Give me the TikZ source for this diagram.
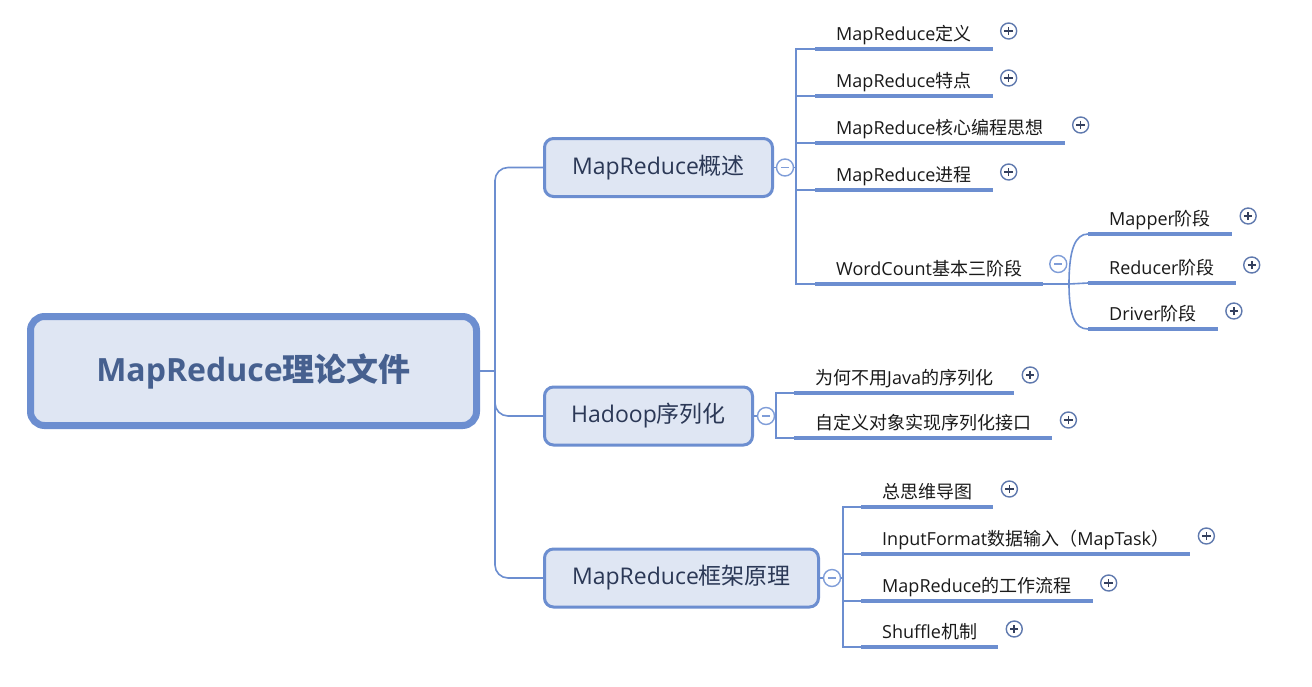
\documentclass[tikz,border=0pt]{standalone}
\usepackage{fontspec}
\setmainfont{Open Sans}
\newfontfamily\zhfont{Noto Sans CJK SC}
\newcommand\zh[1]{{\zhfont #1}}
\definecolor{lineblue}{HTML}{6C8ED0}
\definecolor{boxfill}{HTML}{DFE6F3}
\definecolor{roottext}{HTML}{46608F}
\definecolor{boxtext}{HTML}{2B3856}
\definecolor{ringc}{HTML}{5F79AE}
\definecolor{plusc}{HTML}{34405E}
\definecolor{minusc}{HTML}{7F9DD8}
\definecolor{leaftext}{HTML}{1A1A1A}
\begin{document}
\begin{tikzpicture}[x=1pt,y=-1pt,
 conn/.style={draw=lineblue, line width=1.6pt},
 uline/.style={draw=lineblue, line width=4.5pt},
 rootbox/.style={draw=lineblue, line width=7pt, fill=boxfill, rounded corners=14pt,
   minimum width=446pt, minimum height=109pt, inner sep=0pt, text=roottext,
   font=\fontsize{32}{38}\selectfont\bfseries},
 mainbox/.style={draw=lineblue, line width=3pt, fill=boxfill, rounded corners=9pt,
   minimum height=58pt, inner sep=0pt, text=boxtext, font=\fontsize{23}{28}\selectfont},
 leaf/.style={anchor=base west, inner xsep=21pt, inner ysep=0pt, text=leaftext,
   font=\fontsize{18}{22}\selectfont},
 plusbtn/.style={circle, draw=ringc, line width=1.4pt, fill=white, minimum size=16pt,
   inner sep=0pt, path picture={\draw[plusc, line width=1.6pt]
   ([xshift=-4.2pt]path picture bounding box.center) -- ([xshift=4.2pt]path picture bounding box.center)
   ([yshift=-4.2pt]path picture bounding box.center) -- ([yshift=4.2pt]path picture bounding box.center);}},
 minusbtn/.style={circle, draw=minusc, line width=1.4pt, fill=white, minimum size=17pt,
   inner sep=0pt, path picture={\draw[minusc, line width=1.6pt]
   ([xshift=-4.2pt]path picture bounding box.center) -- ([xshift=4.2pt]path picture bounding box.center);}},
]
\useasboundingbox (0,0) rectangle (1312,686);
\fill[white] (0,0) rectangle (1312,686);

% root and main topics
\node[rootbox] (root) at (253.5,371) {MapReduce\zh{理论文件}};
\node[mainbox, minimum width=228pt] (b1) at (658.5,167.5) {MapReduce\zh{概述}};
\node[mainbox, minimum width=208pt] (b2) at (648.5,416) {Hadoop\zh{序列化}};
\node[mainbox, minimum width=274pt] (b3) at (681.5,578) {MapReduce\zh{框架原理}};

\coordinate (t) at (495,371);
\draw[conn] (root.east) -- (t);
\draw[conn, rounded corners=13pt] (t) |- (b1.west);
\draw[conn, rounded corners=13pt] (t) |- (b2.west);
\draw[conn, rounded corners=13pt] (t) |- (b3.west);

% group A
\node[leaf] (a1) at (815,40) {MapReduce\zh{定义}};
\node[leaf] (a2) at (815,87) {MapReduce\zh{特点}};
\node[leaf] (a3) at (815,134) {MapReduce\zh{核心编程思想}};
\node[leaf] (a4) at (815,181) {MapReduce\zh{进程}};
\node[leaf] (a5) at (815,275) {WordCount\zh{基本三阶段}};
% group B
\node[leaf] (w1) at (1088,225) {Mapper\zh{阶段}};
\node[leaf] (w2) at (1088,274) {Reducer\zh{阶段}};
\node[leaf] (w3) at (1088,320) {Driver\zh{阶段}};
% group C
\node[leaf] (h1) at (794,384) {\zh{为何不用}Java\zh{的序列化}};
\node[leaf] (h2) at (794,429) {\zh{自定义对象实现序列化接口}};
% group D
\node[leaf] (f1) at (861,498) {\zh{总思维导图}};
\node[leaf] (f2) at (861,545) {InputFormat\zh{数据输入（}MapTask\zh{）}};
\node[leaf] (f3) at (861,592) {MapReduce\zh{的工作流程}};
\node[leaf] (f4) at (861,638) {Shuffle\zh{机制}};

% underlines
\foreach \n in {a1,a2,a3,a4,a5,w1,w2,w3,h1,h2,f1,f2,f3,f4}
  \draw[uline] ([yshift=-9pt]\n.base west) -- ([yshift=-9pt]\n.base east);

% junctions
\coordinate (j1) at (796,167.5);
\coordinate (j2) at (776,416);
\coordinate (j3) at (843,578);
\coordinate (jw) at (1069,284);

\draw[conn] (b1.east) -- (j1);
\foreach \n in {a1,a2,a3,a4,a5}
  \draw[conn] (j1) |- ([yshift=-9pt]\n.base west);
\draw[conn] (b2.east) -- (j2);
\foreach \n in {h1,h2}
  \draw[conn] (j2) |- ([yshift=-9pt]\n.base west);
\draw[conn] (b3.east) -- (j3);
\foreach \n in {f1,f2,f3,f4}
  \draw[conn] (j3) |- ([yshift=-9pt]\n.base west);

\draw[conn] ([yshift=-9pt]a5.base east) -- (jw);
\draw[conn] (jw) .. controls +(0,-34) and +(-13,0) .. ([yshift=-9pt]w1.base west);
\draw[conn] (jw) -- ([yshift=-9pt]w2.base west);
\draw[conn] (jw) .. controls +(0,32) and +(-13,0) .. ([yshift=-9pt]w3.base west);

% collapse buttons
\node[minusbtn] (m1) at (785,167.5) {};
\node[minusbtn] (m2) at (766,416) {};
\node[minusbtn] (m3) at (832,578) {};
\node[minusbtn] (m4) at ([xshift=15pt,yshift=11pt]a5.base east) {};

% expand buttons
\foreach \n in {a1,a2,a3,a4,w1,w2,w3,h1,h2,f1,f2,f3,f4}
  \node[plusbtn] (p\n) at ([xshift=16pt,yshift=9pt]\n.base east) {};
\end{tikzpicture}
\end{document}
